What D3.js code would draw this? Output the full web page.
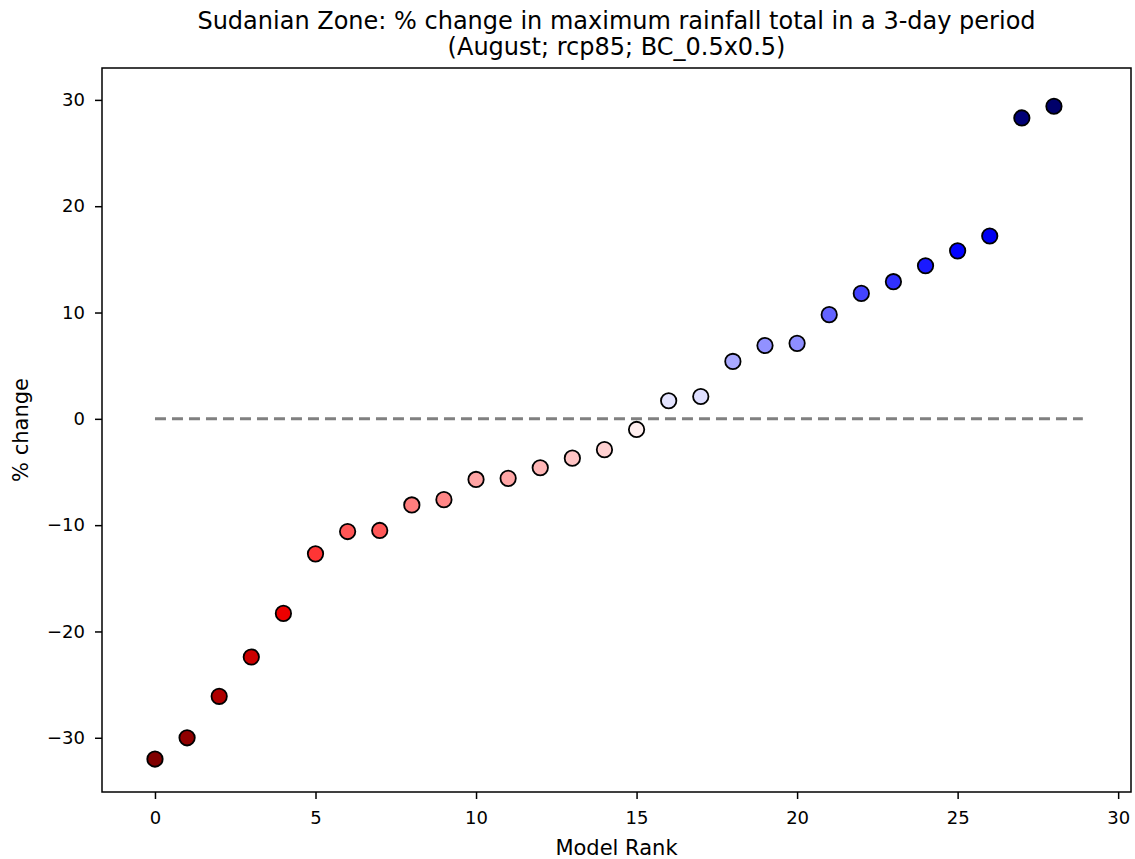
<!DOCTYPE html>
<html>
<head>
<meta charset="utf-8">
<script src="https://cdn.jsdelivr.net/npm/d3@7"></script>
<style>
  body { margin: 0; background: #fff; }
  svg { font-family: "DejaVu Sans", sans-serif; }
  .axis path, .axis line { stroke: #000; stroke-width: 1.5; }
  .axis text { font-size: 18px; fill: #000; font-family: "DejaVu Sans", sans-serif; }
</style>
</head>
<body>
<svg width="1135" height="859"></svg>
<script>
// model rank vs % change
var ranks = d3.range(29);
var pctChange = [-32.0, -30.0, -26.1, -22.4, -18.3, -12.7, -10.6, -10.5, -8.1, -7.6,
  -5.7, -5.6, -4.6, -3.7, -2.9, -1.0, 1.7, 2.1, 5.4, 6.9,
  7.1, 9.8, 11.8, 12.9, 14.4, 15.8, 17.2, 28.3, 29.4];
var xTicks = [0, 5, 10, 15, 20, 25, 30];
var yTicks = [-30, -20, -10, 0, 10, 20, 30];
var zeroLine = [0, 28.9];
var titleLines = ["Sudanian Zone: % change in maximum rainfall total in a 3-day period",
  "(August; rcp85; BC_0.5x0.5)"];

var svg = d3.select("svg"),
  margin = {top: 68, right: 4, bottom: 67, left: 102},
  width = svg.attr("width") - margin.left - margin.right,
  height = svg.attr("height") - margin.top - margin.bottom,
  g = svg.append("g").attr("transform", "translate(" + margin.left + "," + margin.top + ")");

var x = d3.scaleLinear().domain([-1.65, 30.4]).range([0, width]),
  y = d3.scaleLinear().domain([-35.1, 33.0]).range([height, 0]);

// matplotlib "seismic_r", symmetric around zero
var vmax = d3.max(pctChange, function(d) { return Math.abs(d); });
var color = d3.scaleLinear()
  .domain([-vmax, -vmax / 2, 0, vmax / 2, vmax])
  .range(["#800000", "#ff0000", "#ffffff", "#0000ff", "#00004d"])
  .clamp(true);

g.append("g")
  .attr("class", "axis axis--x")
  .attr("transform", "translate(0," + height + ")")
  .call(d3.axisBottom(x).tickValues(xTicks).tickSize(7).tickPadding(12))
  .call(function(s) { s.select(".domain").remove(); });

g.append("g")
  .attr("class", "axis axis--y")
  .call(d3.axisLeft(y).tickValues(yTicks).tickSize(7).tickPadding(10)
    .tickFormat(function(d) { return d < 0 ? "\u2212" + Math.abs(d) : d; }))
  .call(function(s) { s.select(".domain").remove(); });

g.append("line")
  .attr("x1", x(zeroLine[0])).attr("x2", x(zeroLine[1]))
  .attr("y1", y(0)).attr("y2", y(0))
  .style("stroke", "#808080")
  .style("stroke-width", 3)
  .style("stroke-dasharray", "11,6");

g.selectAll(".dot")
  .data(pctChange)
  .enter().append("circle")
  .attr("class", "dot")
  .attr("cx", function(d, i) { return x(ranks[i]); })
  .attr("cy", function(d) { return y(d); })
  .attr("r", 7.7)
  .style("fill", function(d) { return color(d); })
  .style("stroke", "#000")
  .style("stroke-width", 1.8);

// frame
g.append("rect")
  .attr("width", width).attr("height", height)
  .style("fill", "none").style("stroke", "#000").style("stroke-width", 1.5);

svg.selectAll(".title")
  .data(titleLines)
  .enter().append("text")
  .attr("class", "title")
  .attr("x", margin.left + width / 2)
  .attr("y", function(d, i) { return 29 + i * 26; })
  .attr("text-anchor", "middle")
  .style("font-size", "24px")
  .text(function(d) { return d; });

svg.append("text")
  .attr("x", margin.left + width / 2)
  .attr("y", 855)
  .attr("text-anchor", "middle")
  .style("font-size", "21px")
  .text("Model Rank");

svg.append("text")
  .attr("transform", "translate(28," + (margin.top + height / 2) + ") rotate(-90)")
  .attr("text-anchor", "middle")
  .style("font-size", "21px")
  .text("% change");
</script>
</body>
</html>
